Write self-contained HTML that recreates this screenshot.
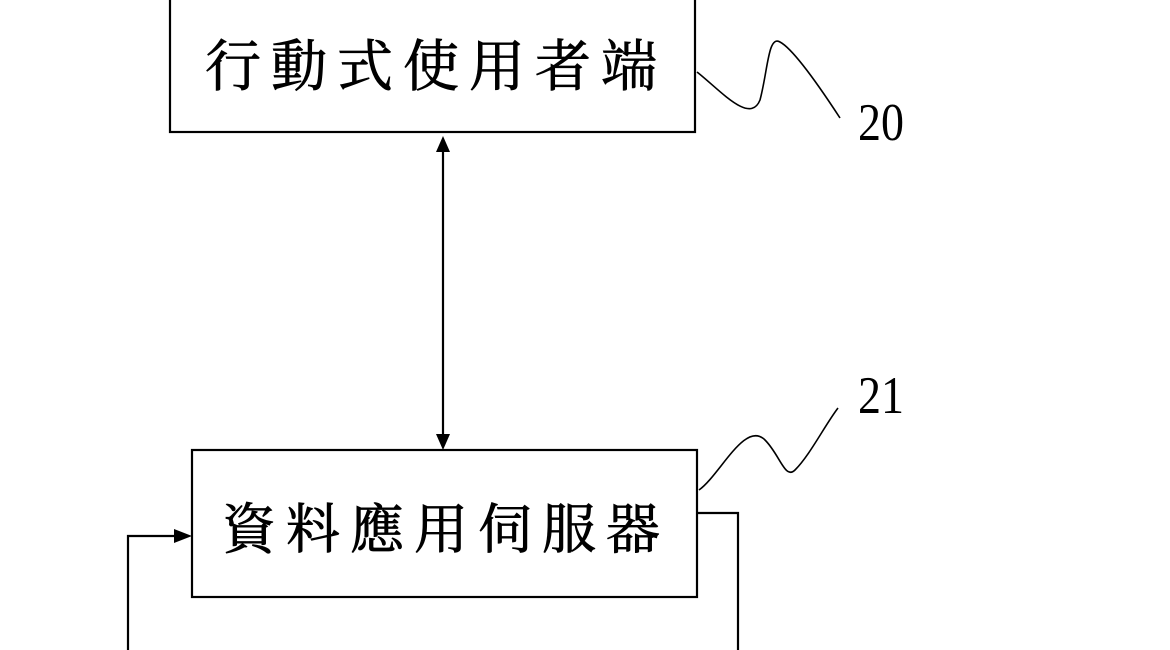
<!DOCTYPE html>
<html><head><meta charset="utf-8"><style>
html,body{margin:0;padding:0;background:#fff;width:1170px;height:650px;overflow:hidden}
</style></head><body>
<svg width="1170" height="650" viewBox="0 0 1170 650" xmlns="http://www.w3.org/2000/svg">
<g fill="none" stroke="#000" stroke-width="2.2">
<rect x="170" y="-5" width="525" height="137"/>
<rect x="192" y="450" width="505" height="147"/>
<line x1="443" y1="150" x2="443" y2="434"/>
<path d="M128,650 L128,536 L176,536"/>
<path d="M697,513 L738,513 L738,650"/>
</g>
<g fill="#000">
<path d="M443,136 L436,152 L450,152 Z"/>
<path d="M443,450 L436,434 L450,434 Z"/>
<path d="M192,536 L174,529 L174,543 Z"/>
</g>
<g fill="none" stroke="#000" stroke-width="1.6">
<path d="M697,72 C720,90 750,125 760,100 C768,70 768,35 780,42 C795,50 825,95 840,118"/>
<path d="M699,490 C720,475 745,420 765,440 C780,455 785,480 795,470 C810,455 825,425 838,408"/>
</g>
<g font-family="'Liberation Serif','Noto Serif CJK SC',serif" fill="#000" stroke="#000" stroke-width="0.8">
<text x="205" y="86" font-size="56" letter-spacing="10">行動式使用者端</text>
<text x="222" y="548" font-size="54" letter-spacing="10">資料應用伺服器</text>
</g>
<g font-family="'Liberation Serif',serif" fill="#000">
<text x="0" y="0" font-size="46" transform="translate(858,140) scale(1.0,1.15)">20</text>
<text x="0" y="0" font-size="46" transform="translate(858,413) scale(1.0,1.15)">21</text>
</g>
</svg>
</body></html>
